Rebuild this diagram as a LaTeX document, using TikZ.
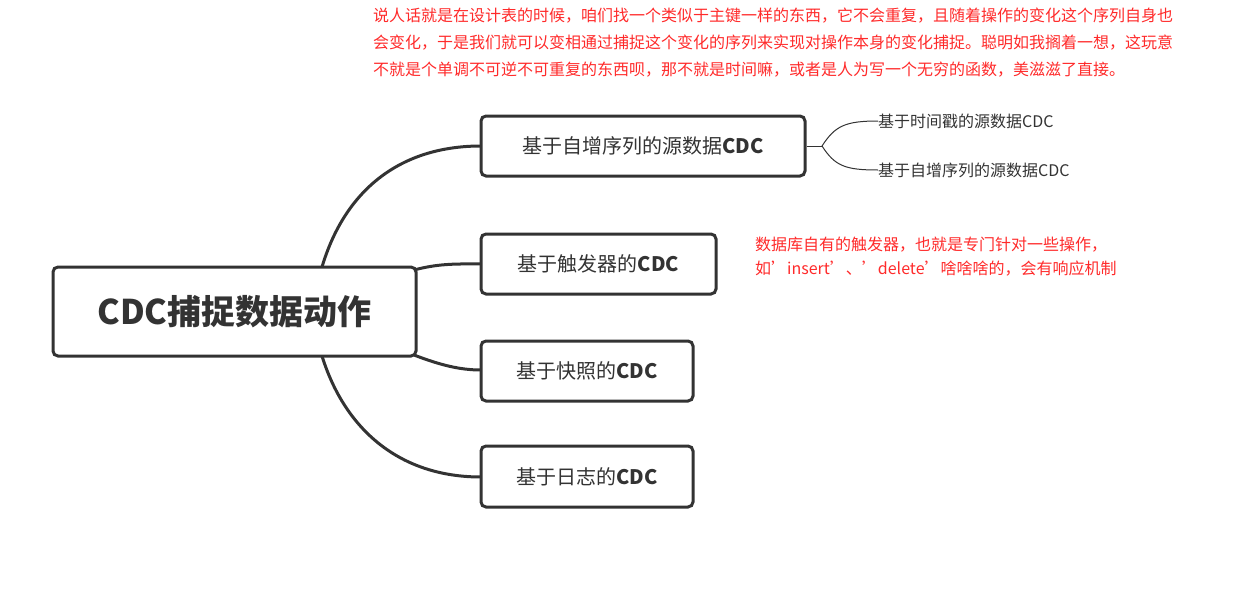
\documentclass[tikz,border=0pt]{standalone}
\usepackage{fontspec}
\setmainfont{Noto Sans CJK SC}
\begin{document}
\begin{tikzpicture}[x=1pt,y=-1pt,
  box/.style={draw=dark,line width=3pt,rounded corners=5pt,fill=white,inner sep=0pt},
  br/.style={draw=dark,line width=3pt},
  sub/.style={draw=dark,line width=1pt},
  note/.style={text=notered,font=\fontsize{16}{27}\selectfont,align=left,anchor=north west,inner sep=0pt},
  leaf/.style={text=dark,font=\fontsize{16}{18}\selectfont,anchor=west,inner sep=0pt}]
\definecolor{dark}{HTML}{333333}
\definecolor{notered}{HTML}{FF2A2A}
\useasboundingbox (0,0) rectangle (1242,602);
% branches
\coordinate (r1) at (322,267);
\coordinate (r4) at (322,356);
\coordinate (r2) at (414,270);
\coordinate (r3) at (414,355);
\draw[br] (r1) .. controls (345,190) and (400,146) .. (481,146);
\draw[br] (r2) .. controls (440,263) and (460,264) .. (481,264);
\draw[br] (r3) .. controls (440,365) and (460,370) .. (481,370);
\draw[br] (r4) .. controls (345,430) and (400,477) .. (481,477);
\node[box,minimum width=363pt,minimum height=89pt,font=\bfseries\fontsize{34}{36}\selectfont,text=dark] (root) at (234.5,311.5) {CDC捕捉数据动作};
\node[box,minimum width=324pt,minimum height=60pt,font=\fontsize{20}{22}\selectfont,text=dark] (b1) at (643,146) {基于自增序列的源数据\textbf{CDC}};
\node[box,minimum width=235pt,minimum height=60pt,font=\fontsize{20}{22}\selectfont,text=dark] (b2) at (598.5,264) {基于触发器的\textbf{CDC}};
\node[box,minimum width=212pt,minimum height=60pt,font=\fontsize{20}{22}\selectfont,text=dark] (b3) at (587,371) {基于快照的\textbf{CDC}};
\node[box,minimum width=212pt,minimum height=61pt,font=\fontsize{20}{22}\selectfont,text=dark] (b4) at (587,476.5) {基于日志的\textbf{CDC}};
% sub branches
\coordinate (s0) at (822,146);
\node[leaf] (l1) at (878,121) {基于时间戳的源数据CDC};
\node[leaf] (l2) at (878,170) {基于自增序列的源数据CDC};
\draw[sub] (b1.east) -- (s0);
\draw[sub] (s0) .. controls (835,126) and (845,121) .. (l1.west);
\draw[sub] (s0) .. controls (835,166) and (845,170) .. (l2.west);
% notes
\node[note] (n1) at (373,8) {说人话就是在设计表的时候，咱们找一个类似于主键一样的东西，它不会重复，且随着操作的变化这个序列自身也\\会变化，于是我们就可以变相通过捕捉这个变化的序列来实现对操作本身的变化捕捉。聪明如我搁着一想，这玩意\\不就是个单调不可逆不可重复的东西呗，那不就是时间嘛，或者是人为写一个无穷的函数，美滋滋了直接。};
\node[note,font=\fontsize{16}{24}\selectfont] (n2) at (755,237) {数据库自有的触发器，也就是专门针对一些操作，\\如'insert'、'delete'啥啥啥的，会有响应机制};
\end{tikzpicture}
\end{document}
